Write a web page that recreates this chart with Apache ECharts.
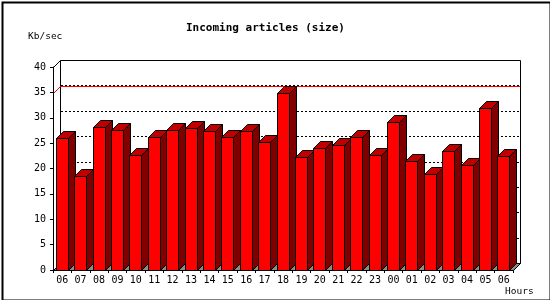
<!DOCTYPE html>
<html>
<head>
<meta charset="utf-8">
<script src="https://cdn.jsdelivr.net/npm/echarts@6/dist/echarts.min.js"></script>
<style>
html,body{margin:0;padding:0;background:#fff;}
#chart{width:550px;height:300px;}
</style>
</head>
<body>
<div id="chart"></div>
<script>
const categories = ['06','07','08','09','10','11','12','13','14','15','16','17','18','19','20','21','22','23','00','01','02','03','04','05','06'];
const values = [26.0, 18.5, 28.1, 27.5, 22.6, 26.3, 27.5, 27.9, 27.3, 26.3, 27.3, 25.2, 34.8, 22.3, 24.1, 24.6, 26.3, 22.6, 29.1, 21.4, 18.9, 23.4, 20.6, 31.9, 22.4];
const gridValues = [5, 10, 15, 20, 25, 30, 35];
const yMin = 0, yMax = 40, yStep = 5;
const titleText = 'Incoming articles (size)';
const yUnit = 'Kb/sec';
const xUnit = 'Hours';

const D = 7;          // 3D depth in pixels
const FONT = 'DejaVu Sans Mono';
const maxVal = Math.max.apply(null, values);

function frameRender(params, api) {
  const cs = params.coordSys;
  const x0 = Math.round(cs.x), x1 = Math.round(cs.x + cs.width);
  const y0 = Math.round(cs.y), y1 = Math.round(cs.y + cs.height);
  const h = 0.5;
  const children = [];
  children.push({type:'polygon', shape:{points:[[x0+D+h,y0-D+h],[x1+D+h,y0-D+h],[x1+D+h,y1-D+h],[x0+D+h,y1-D+h]]},
    style:{fill:'#ffffff', stroke:'#000', lineWidth:1}});
  gridValues.forEach(function(v){
    const y = Math.round(api.coord([0, v])[1]) - D + h;
    children.push({type:'line', shape:{x1:x0+D+1, y1:y, x2:x1+D, y2:y},
      style:{stroke:'#000', lineWidth:1, lineDash:[2,2]}});
  });
  const ym = Math.round(api.coord([0, maxVal])[1]) + h;
  children.push({type:'polyline', shape:{points:[[x0+h, ym],[x0+D+h, ym-D],[x1+D, ym-D]]},
    style:{stroke:'#ff0000', lineWidth:1, fill:null}});
  children.push({type:'polygon', shape:{points:[[x0+h,y1+h],[x1+h,y1+h],[x1+D+h,y1-D+h],[x0+D+h,y1-D+h]]},
    style:{fill:'#8c8c8c', stroke:'#000', lineWidth:1}});
  children.push({type:'line', shape:{x1:x0+h, y1:y0+h, x2:x0+D+h, y2:y0-D+h}, style:{stroke:'#000', lineWidth:1}});
  return {type:'group', children:children};
}

function barRender(params, api) {
  const idx = api.value(0), val = api.value(1);
  const top = api.coord([idx, val]);
  const base = api.coord([idx, 0]);
  const bw = api.size([1, 0])[0];
  const w = Math.round(bw * 0.65);
  const h = 0.5;
  const L = Math.round(top[0] - w / 2 - 0.5) + h;
  const R = L + w;
  const T = Math.round(top[1]) + h;
  const B = Math.round(base[1]) + h;
  const st = {stroke:'#000', lineWidth:1};
  return {type:'group', children:[
    {type:'polygon', shape:{points:[[R,T],[R+D,T-D],[R+D,B-D],[R,B]]}, style:Object.assign({fill:'#800000'}, st)},
    {type:'polygon', shape:{points:[[L,T],[L+D,T-D],[R+D,T-D],[R,T]]}, style:Object.assign({fill:'#c00000'}, st)},
    {type:'polygon', shape:{points:[[L,T],[R,T],[R,B],[L,B]]}, style:Object.assign({fill:'#ff0000'}, st)}
  ]};
}

const chart = echarts.init(document.getElementById('chart'), null, {renderer:'canvas'});
chart.setOption({
  animation:false,
  backgroundColor:'#ffffff',
  title:{text:titleText, left:181, top:18,
    textStyle:{fontFamily:FONT, fontWeight:'bold', fontSize:11, color:'#000'}},
  grid:{left:53, right:37, top:67, bottom:30},
  xAxis:{type:'category', data:categories, boundaryGap:true, z:10,
    axisLine:{show:true, lineStyle:{color:'#000', width:1}},
    axisTick:{show:true, length:3, lineStyle:{color:'#000'}},
    axisLabel:{interval:0, margin:5, fontFamily:FONT, fontSize:10, color:'#000'},
    splitLine:{show:false}},
  yAxis:{type:'value', min:yMin, max:yMax, interval:yStep, z:10,
    axisLine:{show:true, lineStyle:{color:'#000', width:1}},
    axisTick:{show:true, length:3, lineStyle:{color:'#000'}},
    axisLabel:{margin:7, fontFamily:FONT, fontSize:10, color:'#000'},
    splitLine:{show:false}},
  graphic:[
    {type:'rect', left:0, top:0, shape:{x:1, y:1, width:548, height:298}, style:{fill:null, stroke:'#000', lineWidth:2}, z:100},
    {type:'text', left:28, top:32, style:{text:yUnit, fontFamily:FONT, fontSize:9.5, fill:'#000'}},
    {type:'text', left:505, top:287, style:{text:xUnit, fontFamily:FONT, fontSize:9.5, fill:'#000'}}
  ],
  series:[
    {type:'custom', z:1, renderItem:frameRender, data:[[0,0]], silent:true, clip:false},
    {type:'custom', z:2, renderItem:barRender, data:values.map(function(v,i){return [i,v];}), clip:false}
  ]
});
</script>
</body>
</html>
